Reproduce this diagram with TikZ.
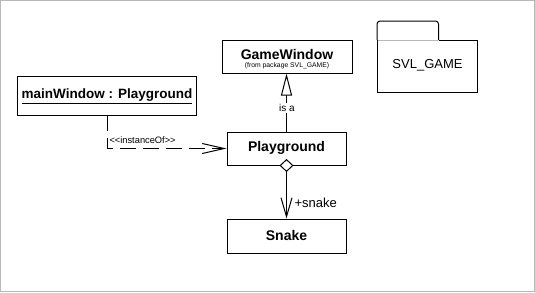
\documentclass[tikz,border=0pt]{standalone}
\usepackage{fontspec}
\setmainfont{Liberation Sans}
\usetikzlibrary{arrows.meta}
\begin{document}
\begin{tikzpicture}[x=1pt,y=-1pt,line width=1pt,
  classbox/.style={draw=black,rectangle,inner sep=0pt,line width=1pt},
  classname/.style={font=\fontsize{14}{16}\selectfont\bfseries,inner sep=0pt},
  lbl/.style={inner sep=1pt},
  geninh/.style={-{Triangle[open,length=22pt,width=11pt,fill=white]}},
  instof/.style={dash pattern=on 16pt off 7pt,-{Straight Barb[length=22pt,width=10pt]}},
  comp/.style={{Diamond[length=13pt,width=14pt,fill=white]}-{Straight Barb[length=19pt,width=11pt]}}
]
\useasboundingbox (0,0) rectangle (535,292);
\draw[draw=black!28] (0.5,0.5) rectangle (534.5,291.5);

% class boxes
\node[classbox,minimum width=130pt,minimum height=33pt] (gw) at (287,56.5) {};
\node[classname] (gwt) at (287,54) {GameWindow};
\node[inner sep=0pt,font=\fontsize{6.8}{7}\selectfont] (gws) at (287,65.5) {(from package SVL\_GAME)};

\node[classbox,minimum width=179pt,minimum height=39pt] (mw) at (106.5,95.5) {};
\node[inner sep=0pt,font=\fontsize{13.5}{15}\selectfont\bfseries] (mwt) at (107,96) {\underline{mainWindow : Playground}};

\node[classbox,minimum width=119pt,minimum height=33pt] (pg) at (286.5,148.5) {};
\node[classname] (pgt) at (286.5,147.5) {Playground};

\node[classbox,minimum width=119pt,minimum height=34pt] (sn) at (286.5,236) {};
\node[classname] (snt) at (286.5,235) {Snake};

% package
\draw[rounded corners=3pt] (377,40) -- (377,21) -- (438.5,21) -- (438.5,40);
\draw (438.5,40) -- (477.5,40) -- (477.5,92) -- (377,92) -- (377,40);
\draw[draw=black!28] (377.5,40) -- (438,40);
\node[inner sep=0pt,font=\fontsize{13}{15}\selectfont] (pkg) at (427.5,65) {SVL\_GAME};

% connectors
\draw[geninh] (pg.north) -- (pg.north |- gw.south);
\node[lbl,fill=white,font=\fontsize{10}{12}\selectfont] (isa) at (287,108) {is a};

\coordinate (mwb) at (107.5,115);
\draw[instof] (mwb) |- (pg.west);
\node[inner sep=0pt,anchor=west,font=\fontsize{9.3}{11}\selectfont] (inst) at (109,140) {<\kern0pt<instanceOf>\kern0pt>};

\draw[comp,shorten <=-6.5pt] (pg.south) -- (sn.north);
\node[inner sep=0pt,anchor=west,font=\fontsize{13}{15}\selectfont] (snl) at (294,203) {+snake};
\end{tikzpicture}
\end{document}
